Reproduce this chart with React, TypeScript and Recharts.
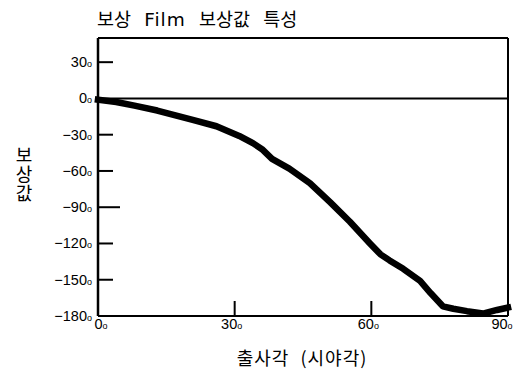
import React from 'react';
import { LineChart, Line, XAxis, YAxis, ReferenceLine } from 'recharts';

const angles = [0, 4, 8, 13, 17, 21, 26, 31, 34, 36, 38.2, 42, 46.5, 51, 55.3, 59.7, 62, 64, 67, 70.7, 73, 75.7, 78, 81, 84.5, 87.6, 90];
const compensation = [-1, -3, -6, -10, -14, -18, -23, -31, -37, -42, -50, -58, -70, -86, -102, -120, -129, -134, -141, -151, -161, -172, -174, -176, -178, -175, -173];
const yTicks = [30, 0, -30, -60, -90, -120, -150, -180];
const xTicks = [0, 30, 60, 90];

const data = angles.map((a, i) => ({ a, v: compensation[i] }));

const NUM_FONT = '"Liberation Sans", Arial, sans-serif';
const KR_FONT = '"Noto Sans CJK KR", sans-serif';

const YTick = (props: any) => {
  const { x, y, payload } = props;
  const v = payload.value;
  const ax = x + 6;
  const len = v === -90 ? 22 : 15;
  const showLine = v !== 0 && v !== -180;
  return (
    <g>
      {showLine && <line x1={ax} x2={ax + len} y1={y} y2={y} stroke="#000" strokeWidth={2} />}
      <text x={x} y={y} dy={5} textAnchor="end" fontFamily={NUM_FONT} fontSize={14.5} fill="#000">
        {String(v).replace('-', '\u2212')}
        <tspan fontSize={9}>o</tspan>
      </text>
    </g>
  );
};

const XTick = (props: any) => {
  const { x, y, payload } = props;
  const v = payload.value;
  const showLine = v !== 0 && v !== 90;
  const shift = v === 0 ? 3 : v === 90 ? -6 : -3;
  return (
    <g>
      {showLine && <line x1={x} x2={x} y1={y - 4} y2={y - 19} stroke="#000" strokeWidth={2} />}
      <text x={x + shift} y={y} dy={9} textAnchor="middle" fontFamily={NUM_FONT} fontSize={14.5} fill="#000">
        {v}
        <tspan fontSize={9}>o</tspan>
      </text>
    </g>
  );
};

export default function App() {
  return (
    <div style={{ position: 'relative', width: 515, height: 361 }}>
      <div style={{ position: 'absolute', left: 89, top: 0, lineHeight: '20px', fontFamily: KR_FONT, fontSize: 18.5, whiteSpace: 'pre', color: '#000', wordSpacing: 9 }}>
        보상 <span style={{ fontFamily: '"DejaVu Sans", sans-serif', letterSpacing: 1 }}>Film</span> 보상값 특성
      </div>
      <div style={{ position: 'absolute', left: 6, top: 138, writingMode: 'vertical-rl', fontFamily: KR_FONT, fontSize: 18, lineHeight: '20px', letterSpacing: 1, color: '#000' }}>
        보상값
      </div>
      <div style={{ position: 'absolute', left: 194, width: 200, textAlign: 'center', top: 339, lineHeight: '20px', fontFamily: KR_FONT, fontSize: 18, letterSpacing: 1, wordSpacing: 6, whiteSpace: 'pre', color: '#000' }}>
        {'출사각 (시야각)'}
      </div>
      <LineChart width={515} height={361} data={data} margin={{ top: 30, right: 15, bottom: 0, left: 10 }}>
        <XAxis
          xAxisId="b"
          dataKey="a"
          type="number"
          domain={[0, 90]}
          ticks={xTicks}
          interval={0}
          tick={<XTick />}
          tickLine={false}
          tickSize={0}
          tickMargin={4}
          height={53}
          axisLine={{ stroke: '#000', strokeWidth: 2 }}
        />
        <YAxis
          yAxisId="l"
          type="number"
          domain={[-180, 50]}
          ticks={yTicks}
          tick={<YTick />}
          tickLine={false}
          tickSize={0}
          tickMargin={6}
          width={80}
          interval={0}
          axisLine={{ stroke: '#000', strokeWidth: 2.5 }}
        />
        <ReferenceLine xAxisId="b" yAxisId="l" y={50} stroke="#000" strokeWidth={2} />
        <ReferenceLine xAxisId="b" yAxisId="l" x={90} stroke="#000" strokeWidth={2} />
        <ReferenceLine xAxisId="b" yAxisId="l" y={0} stroke="#000" strokeWidth={2} />
        <Line xAxisId="b" yAxisId="l" type="linear" dataKey="v" stroke="#000" strokeWidth={6.5} dot={false} isAnimationActive={false} strokeLinejoin="round" strokeLinecap="square" />
      </LineChart>
    </div>
  );
}
